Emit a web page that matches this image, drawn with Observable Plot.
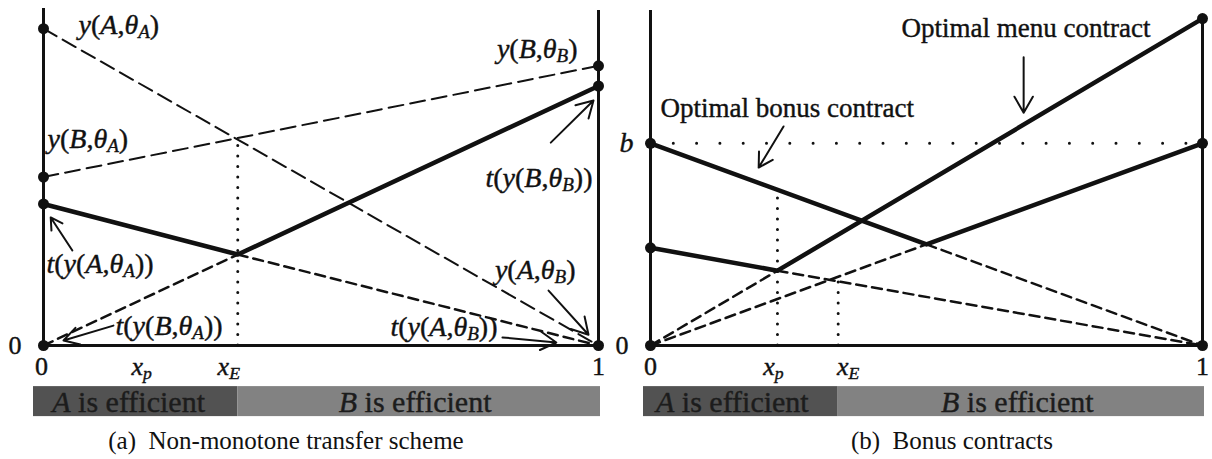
<!DOCTYPE html>
<html>
<head>
<meta charset="utf-8">
<script src="https://cdn.jsdelivr.net/npm/d3@7"></script>
<script src="https://cdn.jsdelivr.net/npm/@observablehq/plot@0.6"></script>
<style>
  html, body { margin: 0; padding: 0; background: #fff; }
  #row { display: flex; width: 1212px; }
  .panel { width: 606px; }
  .caption {
    font-family: "Liberation Serif", serif; font-size: 25px; color: #111;
    text-align: center; height: 37px; line-height: 37px; white-space: pre;
  }
  .caption.a { padding-right: 34px; }
  .caption.b { padding-left: 86px; }
</style>
</head>
<body>
<div id="row"></div>
<script>
// ---------- Panel (a): non-monotone transfer scheme ----------
const aXp = 0.177;           // x_p
const aXe = 0.35;            // x_E, where B becomes efficient
const aOutputA = [{x: 0, y: 94}, {x: 1, y: 0}];   // y(A,θA) ... y(A,θB)
const aOutputB = [{x: 0, y: 50}, {x: 1, y: 83}];  // y(B,θA) ... y(B,θB)
const aTransfer = [{x: 0, y: 42}, {x: aXe, y: 27}, {x: 1, y: 77}];
const aTransferUp = [{x: 0, y: 0}, {x: aXe, y: 27}];
const aTransferDown = [{x: aXe, y: 27}, {x: 1, y: 0}];
const aGuideTop = 61;        // where the two output lines cross
const aDots = [{x: 0, y: 94}, {x: 0, y: 50}, {x: 0, y: 42}, {x: 0, y: 0},
               {x: 1, y: 83}, {x: 1, y: 77}, {x: 1, y: 0}];
const aTickValues = [0, aXp, aXe, 1];
const aTickLabels = ["0", "$*x_p*", "$*x_E*", "1"];

// ---------- Panel (b): bonus contracts ----------
const bXp = 0.23;
const bXe = 0.34;
const bBonus = 60;           // b
const bMenu = [{x: 0, y: 29}, {x: bXp, y: 22.2}, {x: 1, y: 97}];
const bMenuUp = [{x: 0, y: 0}, {x: bXp, y: 22.2}];
const bMenuDown = [{x: bXp, y: 22.2}, {x: 1, y: 0}];
const bBonusLine = [{x: 0, y: 60}, {x: 0.5, y: 30}, {x: 1, y: 60}];
const bBonusUp = [{x: 0, y: 0}, {x: 0.5, y: 30}];
const bBonusDown = [{x: 0.5, y: 30}, {x: 1, y: 0}];
const bGuideXp = 46.2;       // bonus line height at x_p
const bGuideXe = 20;         // dashed crossing near x_E
const bDots = [{x: 0, y: 60}, {x: 0, y: 29}, {x: 0, y: 0},
               {x: 1, y: 97}, {x: 1, y: 60}, {x: 1, y: 0}];
const bTickValues = [0, bXp, bXe, 1];
const bTickLabels = ["0", "$*x_p*", "$*x_E*", "1"];

const regionLabels = ["$*A* is efficient", "$*B* is efficient"];
const captions = ["(a)  Non-monotone transfer scheme", "(b)  Bonus contracts"];

const SERIF = "'Liberation Serif', 'Times New Roman', serif";
const INK = "#111";
const DARK = "#525252", LIGHT = "#828282";
const BAR_TOP = -12.2, BAR_BOTTOM = -21.1;

// Turn "$"-prefixed strings into rich text: *...* italic, _X subscript.
function richText(svg) {
  d3.select(svg).selectAll("text").each(function () {
    const raw = this.textContent;
    if (!raw.startsWith("$")) return;
    const s = raw.slice(1);
    const el = d3.select(this);
    el.text(null);
    let italic = false, buf = "", lowered = false;
    const flush = () => {
      if (!buf) return;
      const t = el.append("tspan").text(buf).attr("font-style", italic ? "italic" : "normal");
      if (lowered) { t.attr("dy", -4); lowered = false; }
      buf = "";
    };
    for (let i = 0; i < s.length; i++) {
      const c = s[i];
      if (c === "*") { flush(); italic = !italic; }
      else if (c === "_") {
        flush();
        el.append("tspan").text(s[++i])
          .attr("font-size", "0.68em").attr("dy", lowered ? 0 : 4)
          .attr("font-style", italic ? "italic" : "normal");
        lowered = true;
      } else buf += c;
    }
    flush();
  });
}

function baseOptions(marginLeft, marginRight, marks) {
  return {
    width: 606, height: 422,
    marginLeft, marginRight, marginTop: 8, marginBottom: 77,
    x: {domain: [0, 1], axis: null},
    y: {domain: [0, 100], axis: null},
    style: {fontFamily: SERIF, background: "transparent", overflow: "visible", color: INK},
    marks
  };
}

// Text with a thin same-colour outline so the glyphs read a little heavier.
function label(str, opts) {
  return Plot.text([str], {text: d => d, fill: INK, stroke: INK, strokeWidth: 0.4, fontSize: 28, ...opts});
}

function barMarks(xe, padLeft, padRight) {
  return [
    Plot.rect([{x1: 0, x2: xe}], {x1: "x1", x2: "x2", y1: () => BAR_TOP, y2: () => BAR_BOTTOM,
      fill: DARK, insetLeft: -padLeft}),
    Plot.rect([{x1: xe, x2: 1}], {x1: "x1", x2: "x2", y1: () => BAR_TOP, y2: () => BAR_BOTTOM,
      fill: LIGHT, insetRight: -padRight}),
    label(regionLabels[0], {x: () => xe / 2, y: () => (BAR_TOP + BAR_BOTTOM) / 2,
      fontSize: 30, fill: "#1c1c1c", stroke: "#1c1c1c", dx: -12, dy: 1}),
    label(regionLabels[1], {x: () => (xe + 1) / 2, y: () => (BAR_TOP + BAR_BOTTOM) / 2,
      fontSize: 30, fill: "#1c1c1c", stroke: "#1c1c1c", dx: -3, dy: 1})
  ];
}

function tickMarks(values, labels, dxs) {
  return values.map((v, i) => label(labels[i], {
    x: () => v, frameAnchor: "bottom", dy: 29, dx: dxs[i], fontSize: 26
  }));
}

function arrow(x1, y1, x2, y2) {
  return Plot.arrow([{x1, y1, x2, y2}], {x1: "x1", y1: "y1", x2: "x2", y2: "y2",
    stroke: INK, strokeWidth: 2, headLength: 14});
}

const guide = {stroke: INK, strokeWidth: 3, strokeDasharray: "0,10.5", strokeLinecap: "round"};
const longDash = {x: "x", y: "y", stroke: INK, strokeWidth: 2, strokeDasharray: "15,7"};
const shortDash = {x: "x", y: "y", stroke: INK, strokeWidth: 2.5, strokeDasharray: "10,6"};
const bold = {x: "x", y: "y", stroke: INK, strokeWidth: 4.5, strokeLinejoin: "round"};

const row = document.getElementById("row");

// ----- (a) -----
const plotA = Plot.plot(baseOptions(43, 8, [
  ...barMarks(aXe, 10, 2),
  // frame axes
  Plot.ruleX([0], {y1: 0, y2: 100, stroke: INK, strokeWidth: 3}),
  Plot.ruleX([1], {y1: 0, y2: 99.4, stroke: INK, strokeWidth: 3}),
  Plot.ruleY([0], {x1: 0, x2: 1, stroke: INK, strokeWidth: 3}),
  // x_E guide
  Plot.ruleX([aXe], {y1: 0, y2: aGuideTop, ...guide}),
  // outputs
  Plot.line(aOutputA, longDash),
  Plot.line(aOutputB, longDash),
  // transfer scheme
  Plot.line(aTransferUp, shortDash),
  Plot.line(aTransferDown, shortDash),
  Plot.line(aTransfer, bold),
  Plot.dot(aDots, {x: "x", y: "y", r: 5.5, fill: INK}),
  // callout arrows
  arrow(0.052, 28.2, 0.013, 38),
  arrow(0.126, 5.9, 0.036, 1.5),
  arrow(0.914, 60.2, 0.991, 72.7),
  arrow(0.910, 16.3, 0.982, 3.2),
  arrow(0.827, 2.4, 0.924, 0.9),
  // point labels
  label("$*y*(*A*,*θ_A*)", {x: () => 0, y: () => 94, textAnchor: "start", dx: 35, dy: -4}),
  label("$*y*(*B*,*θ_A*)", {x: () => 0, y: () => 50, textAnchor: "start", dx: 4, dy: -38}),
  label("$*t*(*y*(*A*,*θ_A*))", {x: () => 0, y: () => 42, textAnchor: "start", dx: 3, dy: 60}),
  label("$*t*(*y*(*B*,*θ_A*))", {x: () => 0, y: () => 0, textAnchor: "start", dx: 72, dy: -19}),
  label("$*y*(*B*,*θ_B*)", {x: () => 1, y: () => 83, textAnchor: "end", dx: -21, dy: -17}),
  label("$*t*(*y*(*B*,*θ_B*))", {x: () => 1, y: () => 77, textAnchor: "end", dx: -6, dy: 92}),
  label("$*y*(*A*,*θ_B*)", {x: () => 1, y: () => 0, textAnchor: "end", dx: -23, dy: -75}),
  label("$*t*(*y*(*A*,*θ_B*))", {x: () => 1, y: () => 0, textAnchor: "end", dx: -101, dy: -18}),
  label("0", {x: () => 0, y: () => 0, textAnchor: "end", dx: -22, fontSize: 26}),
  ...tickMarks(aTickValues, aTickLabels, [-2, 0, -9, 0])
]));

// ----- (b) -----
const plotB = Plot.plot(baseOptions(44, 10, [
  ...barMarks(bXe, 7, 2),
  Plot.ruleX([0], {y1: 0, y2: 99.4, stroke: INK, strokeWidth: 3}),
  Plot.ruleX([1], {y1: 0, y2: 97, stroke: INK, strokeWidth: 3}),
  Plot.ruleY([0], {x1: 0, x2: 1, stroke: INK, strokeWidth: 3}),
  // b level and guides
  Plot.ruleY([bBonus], {x1: 0, x2: 1, ...guide, strokeDasharray: "0,23.3"}),
  Plot.ruleX([bXp], {y1: 0, y2: bGuideXp, ...guide}),
  Plot.ruleX([bXe], {y1: 0, y2: bGuideXe, ...guide}),
  // dashed extensions
  Plot.line(bMenuUp, shortDash),
  Plot.line(bMenuDown, shortDash),
  Plot.line(bBonusUp, shortDash),
  Plot.line(bBonusDown, shortDash),
  // contracts
  Plot.line(bBonusLine, bold),
  Plot.line(bMenu, bold),
  Plot.dot(bDots, {x: "x", y: "y", r: 5.5, fill: INK}),
  arrow(0.241, 65, 0.196, 52.8),
  arrow(0.676, 85.5, 0.676, 69.1),
  label("Optimal bonus contract", {x: () => 0, y: () => bBonus, textAnchor: "start", dx: 10, dy: -35, fontSize: 27}),
  label("Optimal menu contract", {x: () => 1, y: () => 97, textAnchor: "end", dx: -52, dy: 10, fontSize: 27}),
  label("$*b*", {x: () => 0, y: () => bBonus, textAnchor: "end", dx: -17}),
  label("0", {x: () => 0, y: () => 0, textAnchor: "end", dx: -22, fontSize: 26}),
  ...tickMarks(bTickValues, bTickLabels, [0, -4, 10, 0])
]));

[plotA, plotB].forEach((svg, i) => {
  richText(svg);
  const panel = document.createElement("div");
  panel.className = "panel";
  panel.appendChild(svg);
  const cap = document.createElement("div");
  cap.className = "caption " + (i === 0 ? "a" : "b");
  cap.textContent = captions[i];
  panel.appendChild(cap);
  row.appendChild(panel);
});
</script>
</body>
</html>
